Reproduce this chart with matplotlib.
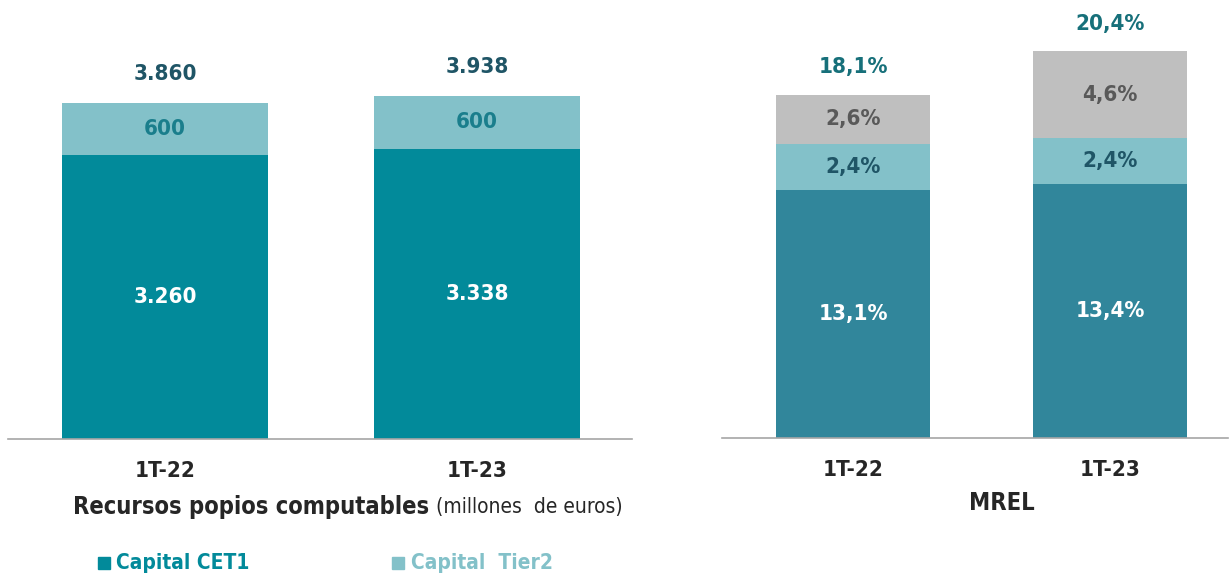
import matplotlib.pyplot as plt
from matplotlib import font_manager
from matplotlib.patches import Rectangle

periods = ['1T-22', '1T-23']

# recursos propios computables (millones de euros)
cet1 = [3260, 3338]
tier2 = [600, 600]
totals_rp = ['3.860', '3.938']
cet1_labels = ['3.260', '3.338']
tier2_labels = ['600', '600']

# MREL (%)
mrel_cet1 = [13.1, 13.4]
mrel_tier2 = [2.4, 2.4]
mrel_other = [2.6, 4.6]
mrel_totals = ['18,1%', '20,4%']

# look for a narrow font, fall back to Liberation Sans
fonts = font_manager.fontManager.ttflist
narrow = [f for f in fonts if 'narrow' in f.fname.lower() or 'condensed' in f.fname.lower()]
names = sorted(set(f.name for f in narrow))
stretch = 'normal'
if 'Liberation Sans Narrow' in names:
    fam = 'Liberation Sans Narrow'
elif any('DejaVu' in f.name for f in narrow):
    fam = 'DejaVu Sans'
    stretch = 'condensed'
elif names:
    fam = names[0]
else:
    fam = 'Liberation Sans'
plt.rcParams['font.family'] = [fam, 'DejaVu Sans']
plt.rcParams['font.stretch'] = stretch
fs = 15 if fam == 'Liberation Sans' else 16

c_cet1 = '#028A9A'
c_cet1_r = '#31869B'
c_tier2 = '#83C1C9'
c_other = '#BFBFBF'
c_dark = '#1F5566'
c_teal = '#17707A'
c_text = '#262626'

fig = plt.figure(figsize=(12.3, 5.77), dpi=100)

# left panel
ax1 = fig.add_axes([8 / 1230, 138 / 577, 624 / 1230, 439 / 577])
x = range(len(periods))
ax1.bar(x, cet1, width=0.66, color=c_cet1)
ax1.bar(x, tier2, width=0.66, bottom=cet1, color=c_tier2)
for i in x:
    ax1.text(i, cet1[i] / 2, cet1_labels[i], ha='center', va='center',
             color='white', fontsize=fs, fontweight='bold')
    ax1.text(i, cet1[i] + tier2[i] / 2, tier2_labels[i], ha='center', va='center',
             color='#1A7E8C', fontsize=fs, fontweight='bold')
    ax1.text(i, cet1[i] + tier2[i] + 340, totals_rp[i], ha='center', va='center',
             color=c_dark, fontsize=fs, fontweight='bold')
ax1.set_xlim(-0.503, 1.497)
ax1.set_ylim(0, 5046)

# right panel
ax2 = fig.add_axes([722 / 1230, 139 / 577, 506 / 1230, 438 / 577])
ax2.bar(x, mrel_cet1, width=0.6, color=c_cet1_r)
b2 = [a + b for a, b in zip(mrel_cet1, mrel_tier2)]
ax2.bar(x, mrel_tier2, width=0.6, bottom=mrel_cet1, color=c_tier2)
ax2.bar(x, mrel_other, width=0.6, bottom=b2, color=c_other)
for i in x:
    ax2.text(i, mrel_cet1[i] / 2, f'{mrel_cet1[i]:.1f}%'.replace('.', ','),
             ha='center', va='center', color='white', fontsize=fs, fontweight='bold')
    ax2.text(i, mrel_cet1[i] + mrel_tier2[i] / 2, f'{mrel_tier2[i]:.1f}%'.replace('.', ','),
             ha='center', va='center', color=c_dark, fontsize=fs, fontweight='bold')
    ax2.text(i, b2[i] + mrel_other[i] / 2, f'{mrel_other[i]:.1f}%'.replace('.', ','),
             ha='center', va='center', color='#595959', fontsize=fs, fontweight='bold')
    ax2.text(i, b2[i] + mrel_other[i] + 1.45, mrel_totals[i], ha='center', va='center',
             color=c_teal, fontsize=fs, fontweight='bold')
ax2.set_xlim(-0.51, 1.459)
ax2.set_ylim(0, 23.09)

for ax in (ax1, ax2):
    for s in ['top', 'right', 'left']:
        ax.spines[s].set_visible(False)
    ax.spines['bottom'].set_color('#A6A6A6')
    ax.spines['bottom'].set_linewidth(1.2)
    ax.set_yticks([])
    ax.set_xticks(list(x))
    ax.set_xticklabels(periods, fontsize=fs, fontweight='bold', color=c_text)
    ax.tick_params(axis='x', length=0, pad=16)

# panel titles
t = fig.text(73 / 1230, 1 - 507 / 577, 'Recursos popios computables', fontsize=fs + 1,
             fontweight='bold', color=c_text, va='center')
plt.annotate('(millones  de euros)', xy=(1, 0.5), xycoords=t, xytext=(5, 0),
             textcoords='offset points', va='center', fontsize=fs - 1, color=c_text)
fig.text(1002 / 1230, 1 - 503 / 577, 'MREL', fontsize=fs + 1, fontweight='bold',
         color=c_text, va='center', ha='center')

# legend
fig.patches.append(Rectangle((98 / 1230, 1 - 569 / 577), 12 / 1230, 12 / 577,
                             transform=fig.transFigure, color=c_cet1, figure=fig))
fig.text(116 / 1230, 1 - 563 / 577, 'Capital CET1', fontsize=fs - 1, fontweight='bold',
         color=c_cet1, va='center')
fig.patches.append(Rectangle((392 / 1230, 1 - 569 / 577), 12 / 1230, 12 / 577,
                             transform=fig.transFigure, color=c_tier2, figure=fig))
fig.text(411 / 1230, 1 - 563 / 577, 'Capital  Tier2', fontsize=fs - 1, fontweight='bold',
         color=c_tier2, va='center')

fig.savefig('out.png', dpi=100)
